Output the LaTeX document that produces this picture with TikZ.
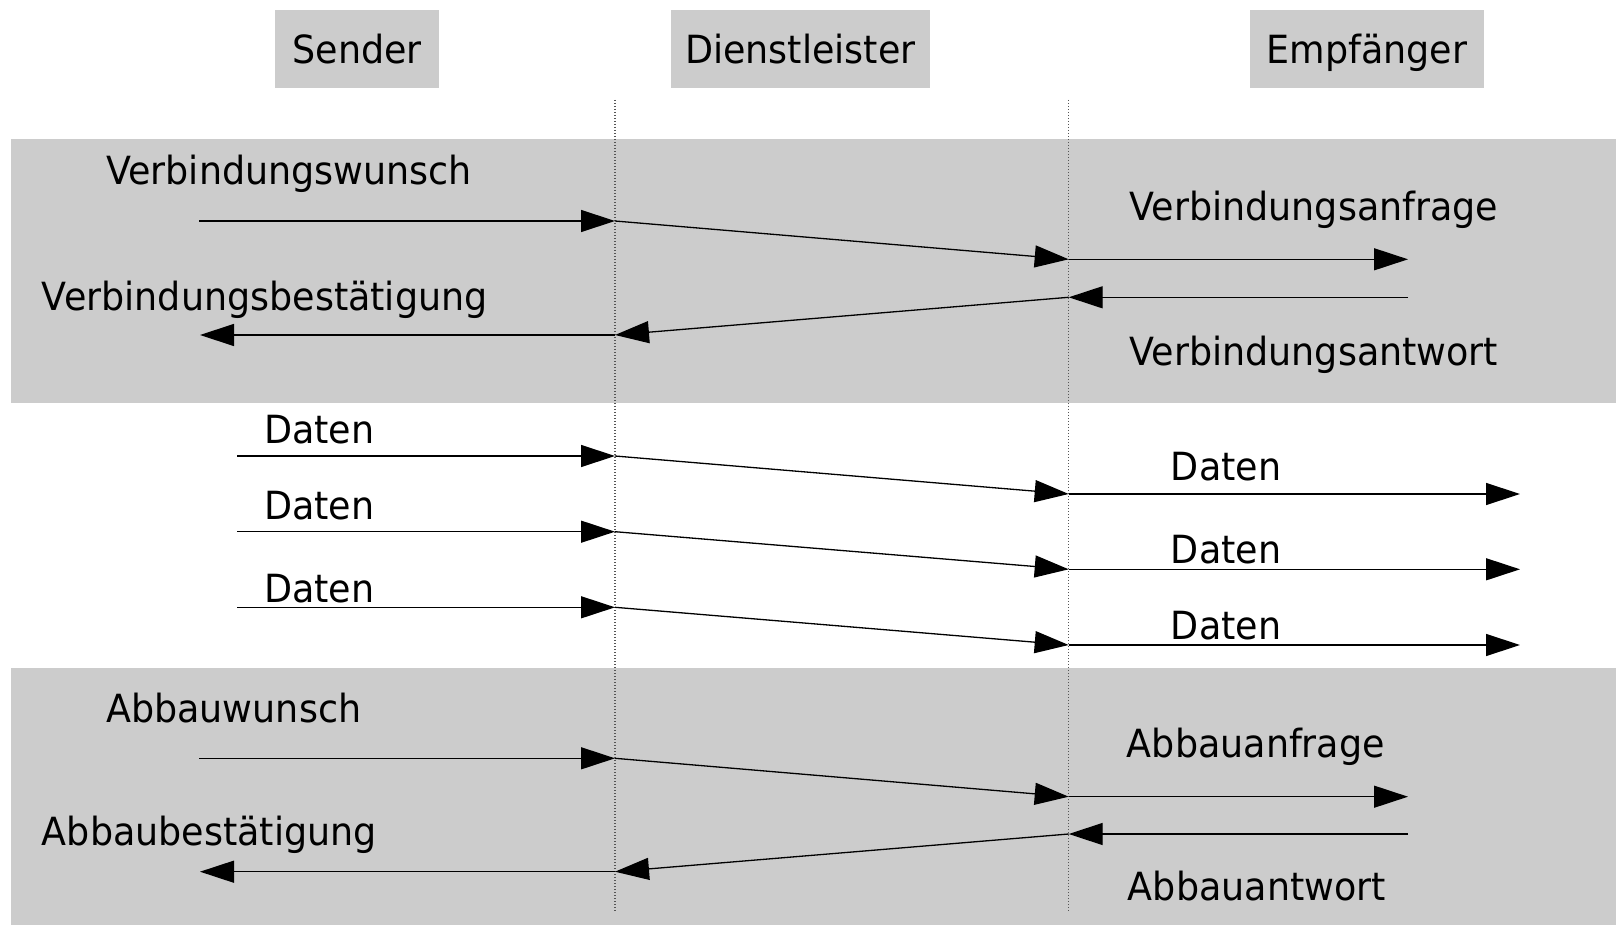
\documentclass[tikz,border=0pt]{standalone}
\usepackage{fontspec}
\setmainfont{DejaVu Sans}[FakeStretch=0.94]
\usetikzlibrary{arrows.meta}
\definecolor{bandgray}{HTML}{CCCCCC}
\definecolor{lifegray}{HTML}{555555}
\newcommand{\lblfont}{\fontsize{38.8}{42}\selectfont}
\begin{document}
\begin{tikzpicture}[x=1pt,y=-1pt,
  lbl/.style={anchor=base west, inner sep=0pt, font=\lblfont},
  actor/.style={fill=bandgray, inner sep=0pt, minimum height=77.7pt,
                text height=29pt, text depth=0pt, font=\lblfont},
  band/.style={fill=bandgray, draw=none},
  msg/.style={line width=1.3pt, -{Triangle[length=34pt,width=22pt]}},
  lifeline/.style={draw=lifegray, line width=1.2pt, dash pattern=on 1.3pt off 1.7pt}]

% canvas
\fill[white] (0,0) rectangle (1616,925);
\useasboundingbox (0,0) rectangle (1616,925);

% phase bands: connection setup and teardown
\path[band] (10.5,139) rectangle (1616,403);
\path[band] (10.5,668) rectangle (1616,925);

% participants
\node[actor, minimum width=164.3pt] (sender)  at (357.2,48.8) {Sender};
\node[actor, minimum width=258.6pt] (dienst)  at (800.3,48.8) {Dienstleister};
\node[actor, minimum width=234pt]   (empf)    at (1367,48.8)  {Empfänger};

% lifelines of the service provider
\coordinate (lsTop) at (615,100);   \coordinate (lsBot) at (615,912);
\coordinate (leTop) at (1068.7,100); \coordinate (leBot) at (1068.7,912);
\draw[lifeline] (lsTop) -- (lsBot);
\draw[lifeline] (leTop) -- (leBot);

% connection request
\coordinate (vw0) at (199.3,221);  \coordinate (vw1) at (615,221);
\coordinate (vw2) at (1068.7,259.3); \coordinate (vw3) at (1408,259.3);
\draw[msg] (vw0) -- (vw1);
\draw[msg] (vw1) -- (vw2);
\draw[msg] (vw2) -- (vw3);

% connection confirmation
\coordinate (vb0) at (1408,297.3); \coordinate (vb1) at (1068.7,297.3);
\coordinate (vb2) at (615,335);    \coordinate (vb3) at (200,335);
\draw[msg] (vb0) -- (vb1);
\draw[msg] (vb1) -- (vb2);
\draw[msg] (vb2) -- (vb3);

\node[lbl] (lvw) at (106,185)     {Verbindungswunsch};
\node[lbl] (lvb) at (41.7,310)    {Verbindungsbestätigung};
\node[lbl] (lva) at (1129.3,220.7) {Verbindungsanfrage};
\node[lbl] (lvt) at (1129.3,365)  {Verbindungsantwort};

% data transfer
\coordinate (da0) at (237.3,456);   \coordinate (da1) at (615,456);
\coordinate (da2) at (1068.7,494);  \coordinate (da3) at (1520,494);
\coordinate (db0) at (237.3,531.7); \coordinate (db1) at (615,531.7);
\coordinate (db2) at (1068.7,569.3); \coordinate (db3) at (1520,569.3);
\coordinate (dc0) at (237.3,607.3); \coordinate (dc1) at (615,607.3);
\coordinate (dc2) at (1068.7,645);  \coordinate (dc3) at (1520,645);
\foreach \r in {da,db,dc}{
  \draw[msg] (\r0) -- (\r1);
  \draw[msg] (\r1) -- (\r2);
  \draw[msg] (\r2) -- (\r3);
}
\node[lbl] (lda) at (264,443.3)    {Daten};
\node[lbl] (ldb) at (264,519)      {Daten};
\node[lbl] (ldc) at (264,602.3)    {Daten};
\node[lbl] (rda) at (1170.7,480.7) {Daten};
\node[lbl] (rdb) at (1170.7,563.3) {Daten};
\node[lbl] (rdc) at (1170.7,639.3) {Daten};

% teardown request
\coordinate (aw0) at (199.3,758.3); \coordinate (aw1) at (615,758.3);
\coordinate (aw2) at (1068.7,796.7); \coordinate (aw3) at (1408,796.7);
\draw[msg] (aw0) -- (aw1);
\draw[msg] (aw1) -- (aw2);
\draw[msg] (aw2) -- (aw3);

% teardown confirmation
\coordinate (ab0) at (1408,834);    \coordinate (ab1) at (1068.7,834);
\coordinate (ab2) at (615,871.7);   \coordinate (ab3) at (200,871.7);
\draw[msg] (ab0) -- (ab1);
\draw[msg] (ab1) -- (ab2);
\draw[msg] (ab2) -- (ab3);

\node[lbl] (law) at (106,722.7)    {Abbauwunsch};
\node[lbl] (lab) at (41.7,845.7)   {Abbaubestätigung};
\node[lbl] (laa) at (1126.7,757.7) {Abbauanfrage};
\node[lbl] (lat) at (1127.7,900)   {Abbauantwort};
\end{tikzpicture}
\end{document}
